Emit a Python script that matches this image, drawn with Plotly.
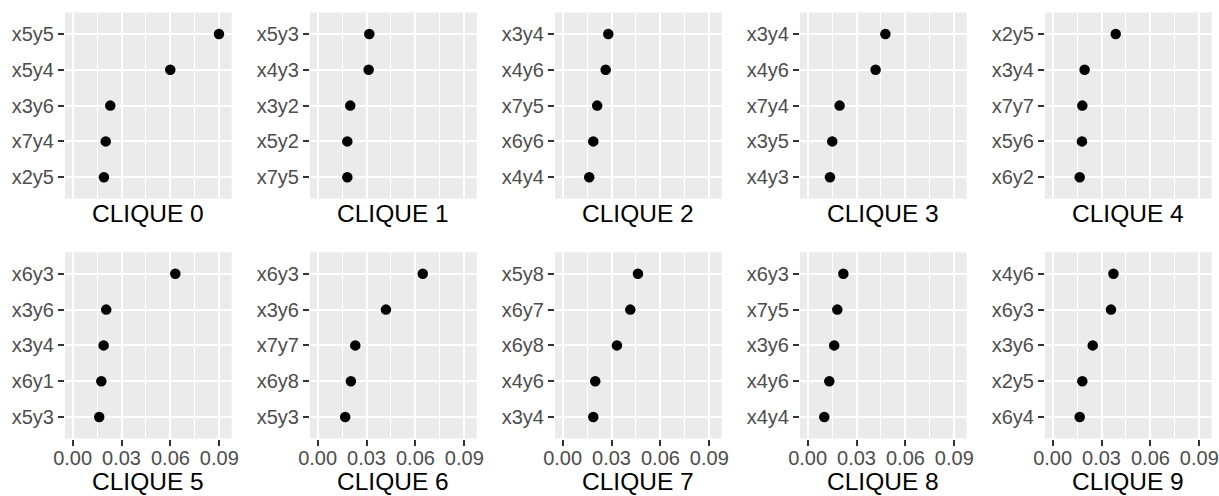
import plotly.graph_objects as go

# ---- data (top-to-bottom order within each clique) ----
clique_names = ["CLIQUE 0", "CLIQUE 1", "CLIQUE 2", "CLIQUE 3", "CLIQUE 4",
                "CLIQUE 5", "CLIQUE 6", "CLIQUE 7", "CLIQUE 8", "CLIQUE 9"]

labels_0 = ["x5y5", "x5y4", "x3y6", "x7y4", "x2y5"]
values_0 = [0.0898, 0.0599, 0.0231, 0.0203, 0.0192]
labels_1 = ["x5y3", "x4y3", "x3y2", "x5y2", "x7y5"]
values_1 = [0.0317, 0.0313, 0.0200, 0.0182, 0.0182]
labels_2 = ["x3y4", "x4y6", "x7y5", "x6y6", "x4y4"]
values_2 = [0.0280, 0.0264, 0.0212, 0.0188, 0.0163]
labels_3 = ["x3y4", "x4y6", "x7y4", "x3y5", "x4y3"]
values_3 = [0.0477, 0.0417, 0.0196, 0.0151, 0.0137]
labels_4 = ["x2y5", "x3y4", "x7y7", "x5y6", "x6y2"]
values_4 = [0.0387, 0.0196, 0.0182, 0.0180, 0.0166]
labels_5 = ["x6y3", "x3y6", "x3y4", "x6y1", "x5y3"]
values_5 = [0.0630, 0.0206, 0.0190, 0.0176, 0.0163]
labels_6 = ["x6y3", "x3y6", "x7y7", "x6y8", "x5y3"]
values_6 = [0.0645, 0.0419, 0.0231, 0.0204, 0.0169]
labels_7 = ["x5y8", "x6y7", "x6y8", "x4y6", "x3y4"]
values_7 = [0.0462, 0.0415, 0.0333, 0.0200, 0.0188]
labels_8 = ["x6y3", "x7y5", "x3y6", "x4y6", "x4y4"]
values_8 = [0.0219, 0.0182, 0.0163, 0.0133, 0.0102]
labels_9 = ["x4y6", "x6y3", "x3y6", "x2y5", "x6y4"]
values_9 = [0.0373, 0.0358, 0.0246, 0.0182, 0.0166]

x_tick_vals = [0.00, 0.03, 0.06, 0.09]
x_tick_text = ["0.00", "0.03", "0.06", "0.09"]
x_minor_vals = [0.015, 0.045, 0.075]

all_labels = [labels_0, labels_1, labels_2, labels_3, labels_4,
              labels_5, labels_6, labels_7, labels_8, labels_9]
all_values = [values_0, values_1, values_2, values_3, values_4,
              values_5, values_6, values_7, values_8, values_9]

# ---- layout geometry (pixels) ----
W, H = 1219, 496
col_left = [65, 310, 555, 800, 1045]
panel_w = 166.7
row_top = [12.5, 252.3]
panel_h = 186.2
title_y = [214, 481]

FONT = "Liberation Sans, Arial, Helvetica, sans-serif"
TICK_SIZE = 20
TITLE_SIZE = 24.5

fig = go.Figure()
layout = dict(
    template="none",
    width=W, height=H,
    margin=dict(l=0, r=0, t=0, b=0, autoexpand=False),
    paper_bgcolor="white",
    plot_bgcolor="#EBEBEB",
    showlegend=False,
    font=dict(family=FONT),
    annotations=[],
)

for k in range(10):
    r, c = divmod(k, 5)
    ax = "" if k == 0 else str(k + 1)
    x0 = col_left[c] / W
    x1 = (col_left[c] + panel_w) / W
    ytop = row_top[r]
    y1 = 1 - ytop / H
    y0 = 1 - (ytop + panel_h) / H

    fig.add_trace(go.Scatter(
        x=all_values[k], y=all_labels[k], mode="markers",
        marker=dict(color="black", size=10.5, line=dict(width=0)),
        xaxis="x" + ax, yaxis="y" + ax, hoverinfo="x+y",
    ))

    bottom = (r == 1)
    layout["xaxis" + ax] = dict(
        domain=[x0, x1], anchor="y" + ax, automargin=False,
        range=[-0.0047, 0.0976],
        tickvals=x_tick_vals, ticktext=x_tick_text,
        showticklabels=bottom,
        ticks="outside" if bottom else "",
        ticklen=6, tickwidth=1.8, tickcolor="#333333",
        ticklabelstandoff=-5,
        tickfont=dict(size=TICK_SIZE, color="#4D4D4D", family=FONT),
        showgrid=True, gridcolor="white", gridwidth=1.8,
        minor=dict(tickvals=x_minor_vals, showgrid=True,
                   gridcolor="white", gridwidth=0.9, ticks=""),
        zeroline=False, showline=False, fixedrange=True,
    )
    layout["yaxis" + ax] = dict(
        domain=[y0, y1], anchor="x" + ax, automargin=False,
        type="category", categoryorder="array",
        categoryarray=all_labels[k],
        range=[4.6, -0.6],
        ticks="outside", ticklen=6, tickwidth=1.8, tickcolor="#333333",
        tickfont=dict(size=TICK_SIZE, color="#4D4D4D", family=FONT),
        showgrid=True, gridcolor="white", gridwidth=1.8,
        zeroline=False, showline=False, fixedrange=True,
    )
    layout["annotations"].append(dict(
        text=clique_names[k], xref="paper", yref="paper",
        x=(col_left[c] + panel_w / 2) / W, y=1 - title_y[r] / H,
        xanchor="center", yanchor="middle", showarrow=False,
        font=dict(size=TITLE_SIZE, color="black", family=FONT),
    ))

fig.update_layout(**layout)
fig.write_html("out.html")
